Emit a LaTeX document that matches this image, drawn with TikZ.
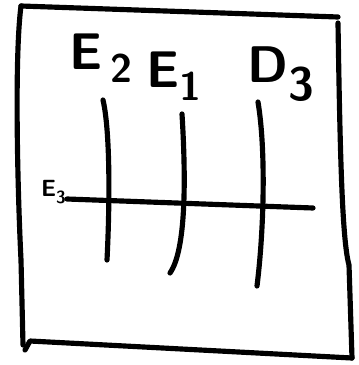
\documentclass[tikz,border=0pt]{standalone}
\usetikzlibrary{calc}
\definecolor{ink}{HTML}{000000}

\begin{document}
\begin{tikzpicture}[x=0.03cm,y=-0.03cm,line cap=round,line join=round,
    stroke/.style={ink,line width=4.4pt},
    biglabel/.style={ink,inner sep=0pt,font=\sffamily\bfseries\fontsize{44}{48}\selectfont},
    smalllabel/.style={ink,inner sep=0pt,font=\sffamily\bfseries\fontsize{20}{22}\selectfont}]
  \useasboundingbox (0,0) rectangle (358,365);

  % Hand-drawn sheet outline.
  \draw[stroke] (21,6) -- (338,17);
  \draw[stroke] (338,23) .. controls (340,150) and (342,240) .. (349,265)
    -- (352,358);
  \draw[stroke] (352,358) -- (30,341) -- (25,350);
  \draw[stroke] (21,6) .. controls (14,60) and (18,200) .. (21,260)
    -- (23,345);

  \coordinate (top2) at (103,100);
  \coordinate (bot2) at (107,260);
  \coordinate (top1) at (182,114);
  \coordinate (bot1) at (170,273);
  \coordinate (top3) at (258,102);
  \coordinate (bot3) at (257,286);
  \coordinate (left3) at (67,199);
  \coordinate (right3) at (313,208);

  \node[biglabel] (e2) at (101,58)
    {E\,\raisebox{-0.25em}{\fontsize{34}{34}\selectfont 2}};
  \node[biglabel] (e1) at (174,76)
    {E\raisebox{-0.25em}{\fontsize{34}{34}\selectfont 1}};
  \node[biglabel] (d3) at (281,74)
    {D\raisebox{-0.35em}{\fontsize{40}{40}\selectfont 3}};
  \node[smalllabel,anchor=east] (e3) at (66,192)
    {E\raisebox{-0.3em}{\fontsize{15}{15}\selectfont 3}};

  \draw[stroke] (top2) .. controls (110,130) and (110,200) .. (bot2);
  \draw[stroke] (top1) .. controls (186,180) and (186,250) .. (bot1);
  \draw[stroke] (top3) .. controls (266,150) and (264,230) .. (bot3);
  \draw[stroke] (left3) -- (right3);
\end{tikzpicture}
\end{document}
